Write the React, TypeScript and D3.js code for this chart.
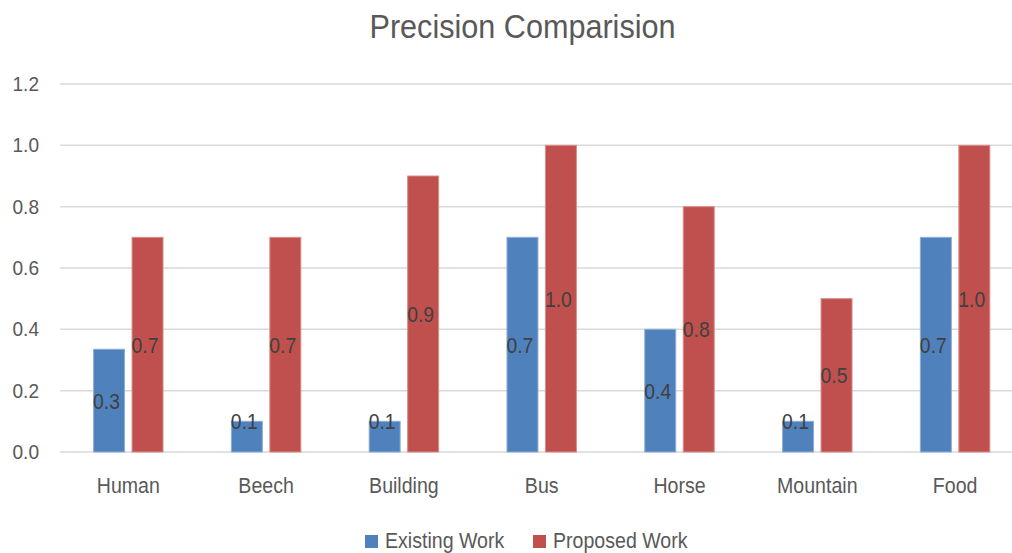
import React, { useEffect } from "react";
import * as d3 from "d3";

const categories = ["Human", "Beech", "Building", "Bus", "Horse", "Mountain", "Food"];
const existingWork = [0.335, 0.1, 0.1, 0.7, 0.4, 0.1, 0.7];
const proposedWork = [0.7, 0.7, 0.9, 1.0, 0.8, 0.5, 1.0];
const seriesNames = ["Existing Work", "Proposed Work"];
const seriesColors = ["#4F81BD", "#C0504D"];
const seriesStrokes = ["#8EADD6", "#D98C8A"];
const yTicks = [0, 0.2, 0.4, 0.6, 0.8, 1.0, 1.2];

const W = 1012;
const H = 553;
const FONT = "'Liberation Sans', Arial, sans-serif";

type CTextProps = {
  x: number;
  y: number;
  size: number;
  sx: number;
  anchor?: "start" | "middle" | "end";
  fill: string;
  children: React.ReactNode;
};

// Text squeezed horizontally to imitate a condensed face.
function CText({ x, y, size, sx, anchor = "middle", fill, children }: CTextProps) {
  return (
    <text
      transform={`translate(${x},${y}) scale(${sx},1)`}
      fontFamily={FONT}
      fontSize={size}
      textAnchor={anchor}
      fill={fill}
    >
      {children}
    </text>
  );
}

export default function App() {
  useEffect(() => {
    document.body.style.margin = "0";
  }, []);

  const plotLeft = 60;
  const x0 = d3
    .scaleBand<string>()
    .domain(categories)
    .range([59.4, 1024])
    .paddingInner(0.496)
    .paddingOuter(0.248);
  const x1 = d3
    .scaleBand<string>()
    .domain(seriesNames)
    .range([0, x0.bandwidth()])
    .paddingInner(0.195);
  const y = d3.scaleLinear().domain([0, 1.2]).range([452, 84]);

  const series = [existingWork, proposedWork];
  const fmt = d3.format(".1f");
  const labelSize = 22;
  const minLabelCenter = y(0) - 31;

  return (
    <svg width={W} height={H} style={{ display: "block", background: "#fff" }}>
      {/* title */}
      <CText x={522.5} y={38} size={34} sx={0.9} fill="#595959">
        Precision Comparision
      </CText>

      {/* gridlines and y tick labels */}
      {yTicks.map((t) => (
        <g key={t}>
          <line
            x1={plotLeft}
            x2={W}
            y1={y(t)}
            y2={y(t)}
            stroke="#D9D9D9"
            strokeWidth={1.5}
          />
          <CText x={39} y={y(t) + 7} size={20.5} sx={0.93} anchor="end" fill="#595959">
            {fmt(t)}
          </CText>
        </g>
      ))}

      {/* bars */}
      {categories.map((c, i) => (
        <g key={c} transform={`translate(${x0(c)},0)`}>
          {seriesNames.map((s, k) => {
            const v = series[k][i];
            const bx = x1(s)!;
            const by = y(v);
            return (
              <rect
                key={s}
                x={bx}
                y={by}
                width={x1.bandwidth()}
                height={y(0) - by}
                fill={seriesColors[k]}
                stroke={seriesStrokes[k]}
                strokeWidth={1}
              />
            );
          })}
        </g>
      ))}

      {/* data labels */}
      {categories.map((c, i) => (
        <g key={c} transform={`translate(${x0(c)},0)`}>
          {seriesNames.map((s, k) => {
            const v = series[k][i];
            const mid = (y(v) + y(0)) / 2;
            const cy = Math.min(mid, minLabelCenter);
            return (
              <CText
                key={s}
                x={x1(s)! - 0.5}
                y={cy + labelSize * 0.358}
                size={labelSize}
                sx={0.88}
                anchor="start"
                fill="#404040"
              >
                {fmt(v)}
              </CText>
            );
          })}
        </g>
      ))}

      {/* category labels */}
      {categories.map((c) => (
        <CText
          key={c}
          x={x0(c)! + x0.bandwidth() / 2}
          y={493}
          size={22}
          sx={0.89}
          fill="#595959"
        >
          {c}
        </CText>
      ))}

      {/* legend */}
      {seriesNames.map((s, k) => {
        const lx = k === 0 ? 365 : 533;
        return (
          <g key={s}>
            <rect x={lx} y={535} width={13} height={13} fill={seriesColors[k]} />
            <CText x={lx + 20} y={548} size={22} sx={0.89} anchor="start" fill="#595959">
              {s}
            </CText>
          </g>
        );
      })}
    </svg>
  );
}
